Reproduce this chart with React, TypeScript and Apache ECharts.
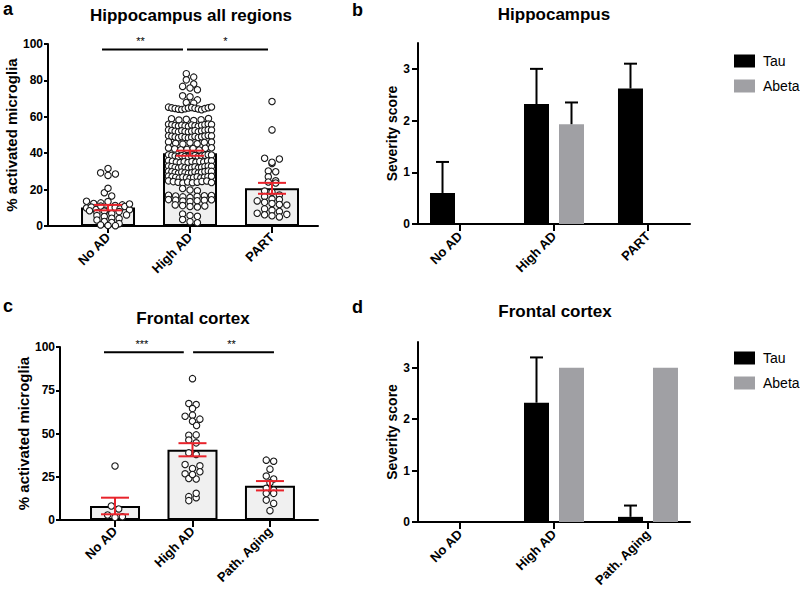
import React, { useEffect, useRef } from "react";
import * as echarts from "echarts";

const FONT = '"Liberation Sans", Arial, Helvetica, sans-serif';

// ---------------- data ----------------
const hippoCategories = ["No AD", "High AD", "PART"];
const frontalCategories = ["No AD", "High AD", "Path. Aging"];

// panel a: individual values (% activated microglia), hippocampus all regions
const hippoNoAD = [
  29.2, 27.8, 28.6, 31.6, 18.3, 16.5, 20.7, 13.6, 12.4, 12.7, 13.4,
  9.9, 10.4, 9.1, 10.9, 8.7, 11.3, 9.6, 10.1, 8.4, 11.6, 9.4, 10.7, 8.9, 12.1,
  7.3, 8.2, 6.8, 7.9, 6.1, 5.7, 5.2, 4.3, 4.1, 3.3, 2.5, 1.9, 1.3, 0.6, 0.3, 0.2,
];
const hippoHighAD = [
  83.7, 81.8, 80.3, 78.0, 76.7, 75.8, 74.9, 71.5, 71.0, 69.3, 67.9, 67.5,
  65.3, 64.9, 64.6, 64.2, 64.0, 64.4, 64.8, 65.1, 64.7, 64.3, 63.9, 64.5, 65.0, 65.4,
  58.9, 58.2, 58.6, 57.9, 58.4, 59.0,
  55.9, 55.6, 55.2, 54.9, 55.4, 55.0, 54.7, 55.5, 55.1, 54.8, 55.3, 55.7, 56.0, 55.8,
  52.8, 52.5, 52.1, 51.7, 52.3, 51.9, 51.6, 52.0, 52.4, 51.8, 52.2, 52.6, 52.9, 52.7,
  49.6, 49.3, 48.9, 48.5, 49.1, 48.7, 48.4, 48.8, 49.2, 48.6, 49.0, 49.4, 49.7, 49.5,
  46.2, 45.4, 45.0, 45.7, 45.2, 45.9, 46.1,
  42.9, 42.4, 41.9, 42.1, 42.6, 41.8, 42.7, 43.0,
  39.1, 38.8, 38.4, 38.0, 38.6, 38.2, 37.9, 38.3, 38.7, 38.1, 38.5, 38.9, 39.2, 39.0,
  35.9, 35.6, 35.1, 34.8, 35.3, 34.9, 35.4, 35.0, 35.5, 35.2, 35.7, 35.8,
  32.9, 32.6, 32.2, 31.8, 32.4, 32.0, 31.7, 32.1, 32.5, 31.9, 32.3, 32.7, 33.0, 32.8,
  30.1, 29.8, 29.4, 29.0, 29.6, 29.2, 28.9, 29.3, 29.7, 29.1, 29.5, 29.9, 30.2, 30.0,
  27.4, 27.1, 26.7, 26.3, 26.9, 26.5, 26.2, 26.6, 27.0, 26.4, 26.8, 27.2, 27.3,
  24.8, 24.4, 24.0, 23.6, 24.2, 23.8, 24.1, 24.5, 24.7, 23.9,
  20.6, 19.8, 19.4,
  16.9, 16.5, 16.0, 15.7, 16.3, 16.6, 16.8,
  14.5, 14.2, 13.7, 13.4, 13.9, 14.1, 14.4,
  11.6, 11.2, 10.7, 10.4, 11.0,
  6.6, 5.8, 5.3,
  3.6, 2.4, 1.8,
];
const hippoPART = [
  68.4, 52.8, 37.2, 34.3, 35.0, 36.8, 30.2, 29.8, 27.0, 24.8, 24.2, 23.6,
  19.2, 18.6, 17.0, 16.2, 14.8, 14.5, 13.8, 13.0, 12.4, 11.8, 11.5,
  9.4, 8.6, 8.0, 7.0, 6.2, 5.6, 5.0, 6.4,
];
const hippoMeans = [10.1, 40.0, 20.7];
const hippoSEM = [1.5, 1.4, 3.0];

// panel c: individual values, frontal cortex
const frontalNoAD = [31.2, 8.1, 6.4, 2.9, 1.5, 1.9];
const frontalHighAD = [
  81.7, 67.3, 66.7, 64.4, 60.0, 60.6, 57.1, 58.3, 54.6, 49.0, 46.2, 49.2, 44.6,
  38.8, 37.9, 32.1, 29.8, 31.3, 26.7, 24.0, 23.7, 26.3, 27.9, 13.5, 11.2, 12.9, 15.4,
];
const frontalPathAging = [34.6, 34.0, 29.4, 25.4, 23.7, 21.5, 18.3, 17.3, 15.4, 15.4, 11.5, 9.6, 5.4];
const frontalMeans = [8.1, 40.6, 19.8];
const frontalSEM = [4.8, 3.8, 2.7];

// panels b and d: severity scores (mean, upper error)
const hippoTau = [0.6, 2.32, 2.62];
const hippoTauErr = [0.6, 0.68, 0.48];
const hippoAbeta = [0, 1.93, 0];
const hippoAbetaErr = [0, 0.42, 0];

const frontalTau = [0, 2.32, 0.1];
const frontalTauErr = [0, 0.88, 0.22];
const frontalAbeta = [0, 3, 3];
const frontalAbetaErr = [0, 0, 0];

// significance brackets
const hippoSig = [
  { from: 0, to: 1, text: "**" },
  { from: 1, to: 2, text: "*" },
];
const frontalSig = [
  { from: 0, to: 1, text: "***" },
  { from: 1, to: 2, text: "**" },
];
const sigLevel = 97;

const percentTicksA = 20;
const percentTicksC = 25;
const severityTicks = [0, 1, 2, 3];

// ---------------- layout ----------------
const GA = { left: 48, top: 44, width: 270, height: 182, xMin: -0.732, xMax: 2.561 };
const GB = { left: 418, top: 43, width: 272, height: 181, xMin: -0.447, xMax: 2.447 };
const GC = { left: 60, top: 347, width: 258, height: 173, xMin: -0.71, xMax: 2.62 };
const GD = { left: 418, top: 342, width: 272, height: 180, xMin: -0.447, xMax: 2.447 };

const RED = "#e8232b";

function swarmOffsets(vals: number[], pxPerValue: number): number[] {
  const BIN_PX = 4.2;
  const STEP = 7.4;
  const MAX_W = 43;
  const order = vals.map((_, i) => i).sort((p, q) => vals[q] - vals[p]);
  const offs = new Array(vals.length).fill(0);
  let k = 0;
  let prevSingle = false;
  let prevOff = 0;
  let prevV = Infinity;
  while (k < order.length) {
    const start = vals[order[k]];
    const bin: number[] = [];
    while (k < order.length && (start - vals[order[k]]) * pxPerValue <= BIN_PX + 1e-9) {
      bin.push(order[k]);
      k++;
    }
    const n = bin.length;
    if (n === 1) {
      let o = 0;
      if (prevSingle && prevOff === 0 && (prevV - start) * pxPerValue < STEP) o = STEP * 0.55;
      offs[bin[0]] = o;
      prevOff = o;
      prevSingle = true;
      prevV = start;
    } else {
      const s = Math.min(STEP, MAX_W / (n - 1));
      bin.sort((p, q) => p - q);
      bin.forEach((p, m) => {
        offs[p] = (m - (n - 1) / 2) * s;
      });
      prevSingle = false;
      prevOff = 1;
      prevV = vals[bin[bin.length - 1]];
    }
  }
  return offs;
}

function swarmData(groups: number[][], g: any, yMax: number) {
  const pxPerValue = g.height / yMax;
  const pxPerUnit = g.width / (g.xMax - g.xMin);
  const out: number[][] = [];
  groups.forEach((vals, cat) => {
    const offs = swarmOffsets(vals, pxPerValue);
    vals.forEach((v, i) => out.push([cat + offs[i] / pxPerUnit, v]));
  });
  return out;
}

function line(x1: number, y1: number, x2: number, y2: number, stroke: string) {
  return { type: "line", shape: { x1, y1, x2, y2 }, style: { stroke, lineWidth: 2 } };
}

function App() {
  const ref = useRef<HTMLDivElement>(null);
  useEffect(() => {
    document.body.style.margin = "0";
    if (!ref.current) return;
    const chart = echarts.init(ref.current, undefined, { renderer: "svg" });

    const grids = [GA, GB, GC, GD];

    const xAxisBase = (gi: number, g: any, cats: string[], tickLen: number, margin: number) => ({
      gridIndex: gi,
      type: "value",
      min: g.xMin,
      max: g.xMax,
      axisLine: { show: true, onZero: false, lineStyle: { color: "#000", width: 2 } },
      axisTick: { show: true, length: tickLen, customValues: [0, 1, 2], lineStyle: { color: "#000", width: 2 } },
      splitLine: { show: false },
      axisLabel: {
        customValues: [0, 1, 2],
        formatter: (v: number) => cats[Math.round(v)] ?? "",
        rotate: 45,
        margin,
        color: "#000",
        fontWeight: "bold",
        fontSize: 13,
        fontFamily: FONT,
      },
    });

    const yAxisBase = (gi: number, opts: any) => ({
      gridIndex: gi,
      type: "value",
      axisLine: { show: true, onZero: false, lineStyle: { color: "#000", width: 2 } },
      axisTick: { show: true, length: opts.tickLen, lineStyle: { color: "#000", width: 2 }, ...(opts.custom ? { customValues: opts.custom } : {}) },
      splitLine: { show: false },
      axisLabel: {
        color: "#000",
        fontWeight: "bold",
        fontSize: 12,
        fontFamily: FONT,
        margin: opts.labelMargin,
        ...(opts.custom ? { customValues: opts.custom } : {}),
      },
      name: opts.name,
      nameLocation: "middle",
      nameGap: opts.nameGap,
      nameTextStyle: { color: "#000", fontWeight: "bold", fontSize: opts.nameSize, fontFamily: FONT },
      min: opts.min,
      max: opts.max,
      ...(opts.interval ? { interval: opts.interval } : {}),
    });

    const meanBar = (name: string, gi: number, means: number[], width: number) => ({
      type: "bar",
      name,
      xAxisIndex: gi,
      yAxisIndex: gi,
      data: means.map((m, i) => [i, m]),
      barWidth: width,
      itemStyle: { color: "#f0f0f0", borderColor: "#000", borderWidth: 2 },
      z: 2,
    });

    const points = (name: string, gi: number, data: number[][]) => ({
      type: "scatter",
      name,
      xAxisIndex: gi,
      yAxisIndex: gi,
      data,
      symbol: "circle",
      symbolSize: 6.4,
      itemStyle: { color: "#ffffff", borderColor: "#1a1a1a", borderWidth: 1.1, opacity: 1 },
      z: 3,
    });

    const semBars = (name: string, gi: number, means: number[], sems: number[]) => ({
      type: "custom",
      name,
      xAxisIndex: gi,
      yAxisIndex: gi,
      encode: { x: 0, y: 1 },
      data: means.map((m, i) => [i, m, sems[i]]),
      z: 5,
      renderItem: (_p: any, api: any) => {
        const x = api.value(0);
        const m = api.value(1);
        const e = api.value(2);
        const t = api.coord([x, m + e]);
        const b = api.coord([x, m - e]);
        const hw = 14;
        return {
          type: "group",
          children: [
            line(t[0], t[1], b[0], b[1], RED),
            line(t[0] - hw, t[1], t[0] + hw, t[1], RED),
            line(b[0] - hw, b[1], b[0] + hw, b[1], RED),
          ],
        };
      },
    });

    const sigBrackets = (name: string, gi: number, sig: any[], startPad: number[], endPad: number[]) => ({
      type: "custom",
      name,
      xAxisIndex: gi,
      yAxisIndex: gi,
      encode: { x: [0, 1], y: 2 },
      data: sig.map((s) => [s.from, s.to, sigLevel]),
      z: 5,
      renderItem: (p: any, api: any) => {
        const i = p.dataIndex;
        const a = api.coord([api.value(0), api.value(2)]);
        const b = api.coord([api.value(1), api.value(2)]);
        const x1 = a[0] + startPad[i];
        const x2 = b[0] + endPad[i];
        return {
          type: "group",
          children: [
            line(x1, a[1], x2, a[1], "#000"),
            {
              type: "text",
              x: (x1 + x2) / 2 - 2,
              y: a[1] - 8,
              style: {
                text: sig[i].text,
                fontSize: 11,
                fontFamily: FONT,
                fill: "#000",
                align: "center",
                verticalAlign: "middle",
                textAlign: "center",
                textVerticalAlign: "middle",
              },
            },
          ],
        };
      },
    });

    const sevBar = (name: string, gi: number, vals: number[], color: string) => ({
      type: "bar",
      name,
      xAxisIndex: gi,
      yAxisIndex: gi,
      data: vals.map((v, i) => [i, v]),
      barWidth: 25,
      barGap: "40%",
      itemStyle: { color },
      z: 2,
    });

    const upErr = (name: string, gi: number, vals: number[], errs: number[], offPx: number) => ({
      type: "custom",
      name,
      xAxisIndex: gi,
      yAxisIndex: gi,
      encode: { x: 0, y: 1 },
      data: vals.map((v, i) => [i, v, errs[i]]),
      z: 4,
      renderItem: (_p: any, api: any) => {
        const e = api.value(2);
        if (!e) return null;
        const x = api.value(0);
        const v = api.value(1);
        const b = api.coord([x, v]);
        const t = api.coord([x, v + e]);
        const cx = b[0] + offPx;
        return {
          type: "group",
          children: [line(cx, b[1], cx, t[1], "#000"), line(cx - 6.5, t[1], cx + 6.5, t[1], "#000")],
        };
      },
    });

    const legendBase = (top: number) => ({
      data: ["Tau", "Abeta"],
      orient: "vertical",
      left: 729,
      top,
      icon: "rect",
      itemWidth: 21,
      itemHeight: 13,
      itemGap: 11,
      selectedMode: false,
      textStyle: { color: "#000", fontSize: 14, fontFamily: FONT, padding: [0, 0, 0, 3] },
    });

    const txt = (text: string, x: number, y: number, size: number, align: string, vAlign = "middle") => ({
      type: "text",
      x,
      y,
      style: {
        text,
        fontSize: size,
        fontWeight: "bold",
        fontFamily: FONT,
        fill: "#000",
        align,
        verticalAlign: vAlign,
        textAlign: align,
        textVerticalAlign: vAlign,
      },
    });

    const option: any = {
      animation: false,
      backgroundColor: "#ffffff",
      grid: grids.map((g) => ({ left: g.left, top: g.top, width: g.width, height: g.height, containLabel: false })),
      xAxis: [
        xAxisBase(0, GA, hippoCategories, 7, 9),
        xAxisBase(1, GB, hippoCategories, 7, 10),
        xAxisBase(2, GC, frontalCategories, 7, 9),
        xAxisBase(3, GD, frontalCategories, 7, 10),
      ],
      yAxis: [
        yAxisBase(0, { min: 0, max: 100, interval: percentTicksA, tickLen: 4, labelMargin: 5, name: "% activated microglia", nameGap: 28, nameSize: 15 }),
        yAxisBase(1, { min: 0, max: 3.5, custom: severityTicks, tickLen: 6, labelMargin: 8, name: "Severity score", nameGap: 19, nameSize: 14 }),
        yAxisBase(2, { min: 0, max: 100, interval: percentTicksC, tickLen: 4, labelMargin: 5, name: "% activated microglia", nameGap: 29, nameSize: 15 }),
        yAxisBase(3, { min: 0, max: 3.5, custom: severityTicks, tickLen: 6, labelMargin: 8, name: "Severity score", nameGap: 19, nameSize: 14 }),
      ],
      legend: [legendBase(49), legendBase(346)],
      graphic: [
        txt("a", 3, 0, 18, "left", "top"),
        txt("Hippocampus all regions", 191, 15, 17, "center"),
        txt("b", 352, 1, 18, "left", "top"),
        txt("Hippocampus", 554, 14, 17, "center"),
        txt("c", 3, 297, 18, "left", "top"),
        txt("Frontal cortex", 193, 318.5, 17, "center"),
        txt("d", 352, 298, 18, "left", "top"),
        txt("Frontal cortex", 555, 311, 17, "center"),
      ],
      series: [
        meanBar("Hippocampus mean", 0, hippoMeans, 54),
        points("Hippocampus values", 0, swarmData([hippoNoAD, hippoHighAD, hippoPART], GA, 100)),
        semBars("Hippocampus SEM", 0, hippoMeans, hippoSEM),
        sigBrackets("Hippocampus significance", 0, hippoSig, [-6, -3], [-7, -4]),

        sevBar("Tau", 1, hippoTau, "#000000"),
        sevBar("Abeta", 1, hippoAbeta, "#a0a0a4"),
        upErr("Tau error hippocampus", 1, hippoTau, hippoTauErr, -17.5),
        upErr("Abeta error hippocampus", 1, hippoAbeta, hippoAbetaErr, 17.5),

        meanBar("Frontal mean", 2, frontalMeans, 50),
        points("Frontal values", 2, swarmData([frontalNoAD, frontalHighAD, frontalPathAging], GC, 100)),
        semBars("Frontal SEM", 2, frontalMeans, frontalSEM),
        sigBrackets("Frontal significance", 2, frontalSig, [-11, 0.6], [-8.7, 4]),

        sevBar("Tau", 3, frontalTau, "#000000"),
        sevBar("Abeta", 3, frontalAbeta, "#a0a0a4"),
        upErr("Tau error frontal", 3, frontalTau, frontalTauErr, -17.5),
        upErr("Abeta error frontal", 3, frontalAbeta, frontalAbetaErr, 17.5),
      ],
    };

    chart.setOption(option);
    return () => chart.dispose();
  }, []);

  return (
    <div
      ref={ref}
      style={{ position: "fixed", left: 0, top: 0, width: 800, height: 593, background: "#fff" }}
    />
  );
}

export default App;
